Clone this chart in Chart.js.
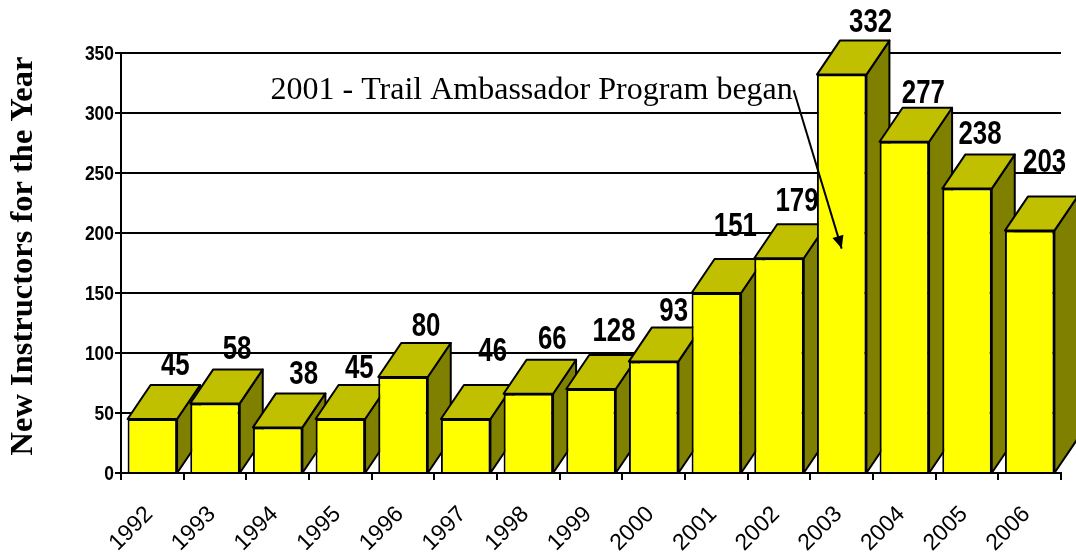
<!DOCTYPE html>
<html><head><meta charset="utf-8">
<style>html,body{margin:0;padding:0;background:#fff}canvas{display:block}</style>
<script src="https://cdn.jsdelivr.net/npm/chart.js@4"></script>
</head><body><canvas id="c" width="1076" height="554"></canvas>
<script>
const years = ['1992','1993','1994','1995','1996','1997','1998','1999','2000','2001','2002','2003','2004','2005','2006'];
const barValues = [45,58,38,45,80,45,66,70,93,150,179,332,276,237,202];
const printedLabels = ['45','58','38','45','80','46','66','128','93','151','179','332','277','238','203'];
const yTicks = [0,50,100,150,200,250,300,350];
const labelLift = [19,20,19,16,16,33,20,23,16,32,23,18,14,20,34];
const labelShift = [0,-1,3,-4,0,4,1,0,-3,-4,-5,6,-4,-10,-8];
const noteText = '2001 - Trail Ambassador Program began';
const axisTitle = 'New Instructors for the Year';
const depth = {x:23, y:34};

const sans = '"Liberation Sans",Arial,sans-serif';
const serif = '"Liberation Serif","Times New Roman",serif';

function squeezed(ctx, text, x, y, sx){
  ctx.save();ctx.translate(x,y);ctx.scale(sx,1);ctx.fillText(text,0,0);ctx.restore();
}
const depthFaces = {
  id:'depthFaces',
  beforeDatasetsDraw(chart){
    const ctx = chart.ctx;
    const base = chart.scales.y.getPixelForValue(0);
    ctx.save();
    ctx.lineWidth = 2; ctx.strokeStyle = '#000'; ctx.lineJoin = 'round';
    chart.getDatasetMeta(0).data.forEach(b=>{
      const l=b.x-b.width/2, r=b.x+b.width/2, t=b.y;
      ctx.fillStyle='#808000';
      ctx.beginPath();ctx.moveTo(r,base);ctx.lineTo(r+depth.x,base-depth.y);ctx.lineTo(r+depth.x,t-depth.y);ctx.lineTo(r,t);ctx.closePath();ctx.fill();ctx.stroke();
      ctx.fillStyle='#C0C000';
      ctx.beginPath();ctx.moveTo(l,t);ctx.lineTo(l+depth.x,t-depth.y);ctx.lineTo(r+depth.x,t-depth.y);ctx.lineTo(r,t);ctx.closePath();ctx.fill();ctx.stroke();
    });
    ctx.restore();
  }
};
const topLabels = {
  id:'topLabels',
  afterDatasetsDraw(chart){
    const ctx = chart.ctx;
    ctx.save();
    ctx.fillStyle='#000';ctx.textAlign='center';ctx.textBaseline='middle';
    ctx.font='bold 34px '+sans;
    chart.getDatasetMeta(0).data.forEach((b,i)=>{
      squeezed(ctx, printedLabels[i], b.x+depth.x+labelShift[i], b.y-depth.y-labelLift[i], 0.76);
    });
    const X=chart.scales.x, Y=chart.scales.y;
    // y tick labels, from the axis ticks
    ctx.font='bold 21px '+sans;ctx.textAlign='right';
    Y.ticks.forEach(t=>squeezed(ctx, String(t.value), Y.right-7, Y.getPixelForValue(t.value)+1, 0.83));
    // y axis title
    ctx.save();
    ctx.translate(24,256);ctx.rotate(-Math.PI/2);
    ctx.font='bold 32.5px '+serif;ctx.textAlign='center';
    ctx.fillText(axisTitle,0,0);
    ctx.restore();
    // note and arrow, anchored on the scales
    ctx.font='32px '+serif;ctx.textAlign='right';
    ctx.fillText(noteText, X.getPixelForValue(10.22), Y.getPixelForValue(319));
    const x0=X.getPixelForValue(10.235), y0=Y.getPixelForValue(319);
    const x1=X.getPixelForValue(11.0), y1=Y.getPixelForValue(187);
    ctx.strokeStyle='#000';ctx.lineWidth=2;
    ctx.beginPath();ctx.moveTo(x0,y0);ctx.lineTo(x1,y1);ctx.stroke();
    const a=Math.atan2(y1-y0,x1-x0),h=14,w=0.42;
    ctx.beginPath();ctx.moveTo(x1,y1);
    ctx.lineTo(x1-h*Math.cos(a-w),y1-h*Math.sin(a-w));
    ctx.lineTo(x1-h*Math.cos(a+w),y1-h*Math.sin(a+w));
    ctx.closePath();ctx.fill();
    ctx.restore();
  }
};
new Chart(document.getElementById('c'),{
  type:'bar',
  data:{labels:years,datasets:[{data:barValues,backgroundColor:'#FFFF00',borderColor:'#000',borderWidth:2,
    categoryPercentage:1,barPercentage:0.79}]},
  plugins:[depthFaces,topLabels],
  options:{
    responsive:false,animation:false,
    layout:{padding:{top:53,right:15,left:0,bottom:0}},
    plugins:{legend:{display:false},tooltip:{enabled:false},title:{display:false}},
    scales:{
      x:{
        afterFit(s){s.height=81;},
        grid:{offset:true,drawOnChartArea:false,color:'#000',lineWidth:2,tickLength:7},
        border:{color:'#000',width:2},
        ticks:{color:'#000',font:{family:sans,size:23},minRotation:45,maxRotation:45,padding:21,labelOffset:-3,autoSkip:false}
      },
      y:{
        min:0,max:350,
        afterFit(s){s.width=121;},
        afterBuildTicks(s){s.ticks=yTicks.map(v=>({value:v}));},
        grid:{color:'#000',lineWidth:2,tickLength:6},
        border:{color:'#000',width:2},
        ticks:{display:false}
      }
    }
  }
});
</script></body></html>
